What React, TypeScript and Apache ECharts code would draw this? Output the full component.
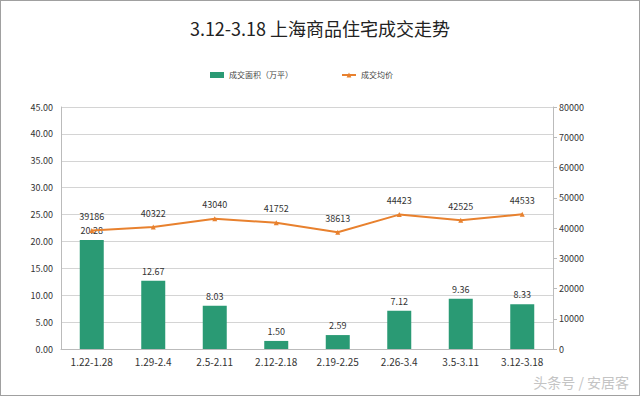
import React, { useEffect, useRef } from "react";
import * as echarts from "echarts";

const categories = ["1.22-1.28", "1.29-2.4", "2.5-2.11", "2.12-2.18", "2.19-2.25", "2.26-3.4", "3.5-3.11", "3.12-3.18"];
const areaValues = [20.28, 12.67, 8.03, 1.5, 2.59, 7.12, 9.36, 8.33];
const priceValues = [39186, 40322, 43040, 41752, 38613, 44423, 42525, 44533];

export default function App() {
  const ref = useRef<HTMLDivElement>(null);
  useEffect(() => {
    if (!ref.current) return;
    const chart = echarts.init(ref.current, undefined, { renderer: "svg" });
    const font = "'Microsoft YaHei', 'Noto Sans CJK SC', 'Open Sans', sans-serif";
    chart.setOption({
      animation: false,
      textStyle: { fontFamily: font },
      title: {
        text: "3.12-3.18 上海商品住宅成交走势",
        left: "center",
        top: 13,
        textStyle: { fontSize: 18, fontWeight: "normal", color: "#222", fontFamily: font },
      },
      legend: {
        top: 65,
        left: 204,
        itemGap: 48,
        itemWidth: 14,
        itemHeight: 6,
        textStyle: { fontSize: 8, color: "#444" },
        data: [
          { name: "成交面积（万平）", icon: "rect" },
          { name: "成交均价" },
        ],
      },
      grid: { left: 60, right: 86, top: 106, bottom: 46 },
      xAxis: {
        type: "category",
        data: categories,
        axisLine: { lineStyle: { color: "#bbb" } },
        axisTick: { show: false },
        axisLabel: { fontSize: 10, color: "#333", margin: 7 },
      },
      yAxis: [
        {
          type: "value",
          min: 0,
          max: 45,
          interval: 5,
          axisLine: { show: true, lineStyle: { color: "#bbb" } },
          axisTick: { show: false },
          axisLabel: { fontSize: 9, color: "#333", formatter: (v: number) => v.toFixed(2) },
          splitLine: { lineStyle: { color: "#d4d4d4" } },
        },
        {
          type: "value",
          min: 0,
          max: 80000,
          interval: 10000,
          axisLine: { show: true, lineStyle: { color: "#bbb" } },
          axisTick: { show: true, length: 4, lineStyle: { color: "#bbb" } },
          axisLabel: { fontSize: 9, color: "#333", margin: 6, formatter: (v: number) => String(v) },
          splitLine: { show: false },
        },
      ],
      series: [
        {
          name: "成交面积（万平）",
          type: "bar",
          data: areaValues,
          barWidth: 24,
          itemStyle: { color: "#2a9a74" },
          label: { show: true, position: "top", fontSize: 9, color: "#333", formatter: (p: any) => p.value.toFixed(2) },
        },
        {
          name: "成交均价",
          type: "line",
          yAxisIndex: 1,
          data: priceValues,
          symbol: "triangle",
          symbolSize: 5,
          lineStyle: { color: "#e8812e", width: 2 },
          itemStyle: { color: "#e8812e" },
          label: { show: true, position: "top", distance: 7, fontSize: 9, color: "#333" },
        },
      ],
      graphic: [
        {
          type: "text",
          right: 10,
          bottom: 6,
          style: { text: "头条号 / 安居客", fontSize: 14, fill: "#c4c4c4", fontFamily: font },
        },
      ],
    });
    return () => chart.dispose();
  }, []);
  return (
    <div
      ref={ref}
      style={{
        position: "fixed",
        left: 0,
        top: 0,
        width: 640,
        height: 396,
        boxSizing: "border-box",
        border: "1px solid #a0a0a0",
        background: "#fff",
      }}
    />
  );
}
